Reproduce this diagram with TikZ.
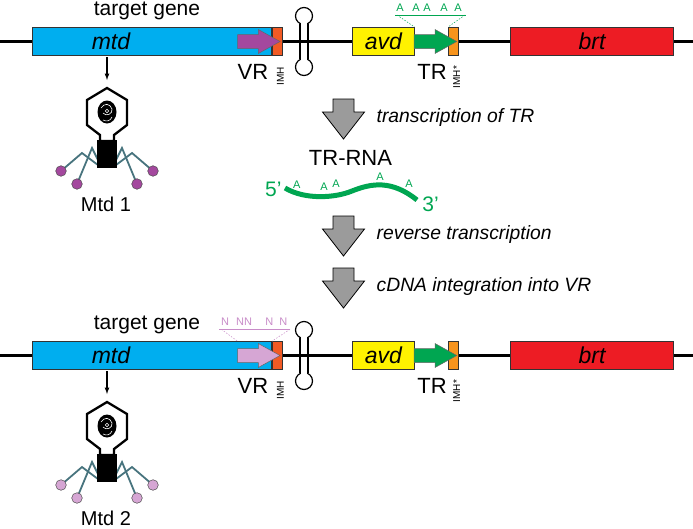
\documentclass[tikz,border=0pt]{standalone}
\usepackage{fontspec}
\setmainfont{Liberation Sans}
\usetikzlibrary{positioning, arrows}

\definecolor{mtdblue}{RGB}{0,174,239}
\definecolor{imhred}{RGB}{241,90,36}
\definecolor{imhorange}{RGB}{247,148,29}
\definecolor{avdyellow}{RGB}{255,242,0}
\definecolor{trgreen}{RGB}{0,166,81}
\definecolor{brtred}{RGB}{237,28,36}
\definecolor{vrdark}{RGB}{164,72,158}
\definecolor{vrlight}{RGB}{214,166,212}
\definecolor{npink}{RGB}{200,140,200}
\definecolor{legteal}{RGB}{72,116,126}
\definecolor{arrowgray}{RGB}{155,155,155}

\tikzset{
  gene/.style={draw=black!80, line width=0.8pt, minimum height=27.7pt, inner sep=0pt},
  imh/.style={draw=black!80, line width=0.6pt, minimum width=10pt, minimum height=27.7pt, inner sep=0pt},
  genename/.style={font=\fontsize{23}{23}\selectfont\itshape},
  lbl/.style={font=\fontsize{21}{21}\selectfont, inner sep=0pt},
  imhtext/.style={font=\fontsize{10}{10}\selectfont, inner sep=0pt, rotate=90},
  basetext/.style={font=\fontsize{11}{11}\selectfont, inner sep=0pt},
  fibre/.style={draw=legteal, line width=1.8pt},
}

\begin{document}
\begin{tikzpicture}[x=1pt, y=-1pt]
    \useasboundingbox (0,0) rectangle (693,528);

    % the two loci, before and after
    \foreach \r/\dy/\vr in {1/0/vrdark, 2/314/vrlight} {
        % terminator hairpin
        \filldraw[fill=white, line width=1.2pt] (304,16+\dy) circle (8.5pt);
        \filldraw[fill=white, line width=1.2pt] (304,67+\dy) circle (8.5pt);
        \fill[white] (300.6,22+\dy) rectangle (307.4,61+\dy);
        \draw[line width=1.2pt] (300,23.6+\dy) -- (300,59.4+\dy) (308,23.6+\dy) -- (308,59.4+\dy);

        \coordinate (L\r) at (0,41.5+\dy);
        \coordinate (R\r) at (693,41.5+\dy);
        \draw[line width=3.3pt] (L\r) -- (R\r);

        \node (mtdbox\r) [gene, fill=mtdblue, minimum width=239.4pt] at (152,41.2+\dy) {};
        \node (imhvr\r) [imh, fill=imhred, right=0pt of mtdbox\r] {};
        \node (mtd\r) [genename] at (111,41.2+\dy) {mtd};
        \coordinate (vrtop\r) at (237.7,27.3+\dy);
        \filldraw[fill=\vr, draw=black!60, line width=0.5pt] (237.7,34.5+\dy) -- (258.3,34.5+\dy) -- (258.3,29.5+\dy)
            -- (280,41.5+\dy) -- (258.3,53.5+\dy) -- (258.3,48.5+\dy) -- (237.7,48.5+\dy) -- cycle;

        \node (avd\r) [gene, genename, fill=avdyellow, minimum width=61.3pt] at (383.35,41.2+\dy) {avd};
        \node (imhtr\r) [imh, fill=imhorange] at (453.3,41.2+\dy) {};
        \filldraw[fill=trgreen, draw=black!60, line width=0.5pt] (414,34.5+\dy) -- (435,34.5+\dy) -- (435,29.5+\dy)
            -- (456.7,41.5+\dy) -- (435,53.5+\dy) -- (435,48.5+\dy) -- (414,48.5+\dy) -- cycle;
        \node (brt\r) [gene, genename, fill=brtred, minimum width=162.6pt] at (592,41.2+\dy) {brt};

        \node (tg\r) [lbl] at (147,10.5+\dy) {target gene};
        \node (vr\r) [lbl, font=\fontsize{22}{22}\selectfont] at (253,72+\dy) {VR};
        \node (imhvrtext\r) [imhtext] at (280.5,76+\dy) {IMH};
        \node (tr\r) [lbl, font=\fontsize{22}{22}\selectfont] at (432,72+\dy) {TR};
        \node (imhtrtext\r) [imhtext] at (456.7,77+\dy) {IMH*};

        % phage carrying Mtd
        \coordinate (top\r) at (107,57+\dy);
        \coordinate (head\r) at (107,80+\dy);
        \draw[-latex, line width=1.2pt] (top\r) -- (head\r);
        \draw[fibre] (61,171+\dy) -- (82,153+\dy) -- (98,165+\dy);
        \draw[fibre] (77,184+\dy) -- (92,148+\dy) -- (98,160+\dy);
        \draw[fibre] (153,171+\dy) -- (132,153+\dy) -- (116,165+\dy);
        \draw[fibre] (137,184+\dy) -- (122,148+\dy) -- (116,160+\dy);
        \foreach \fx/\fy in {61/171, 77/184, 153/171, 137/184}
            \filldraw[fill=\vr, draw=black!70, line width=0.5pt] (\fx,\fy+\dy) circle (5.3pt);
        \draw[line width=2.3pt, fill=white, line join=miter] (107,88+\dy) -- (87,100+\dy) -- (87,125+\dy) -- (100,135+\dy)
            -- (100,141+\dy) -- (114,141+\dy) -- (114,135+\dy) -- (127,125+\dy) -- (127,100+\dy) -- cycle;
        \fill (97,140+\dy) rectangle (117,168+\dy);
        \fill (107,112+\dy) ellipse (9.5pt and 11.5pt);
        \draw[white, line width=0.6pt] (101,108+\dy) .. controls (104,103+\dy) and (110,103+\dy) .. (112,109+\dy)
            .. controls (113,114+\dy) and (106,117+\dy) .. (103,113+\dy);
        \draw[white, line width=0.6pt] (103,120+\dy) .. controls (107,122+\dy) and (110,121+\dy) .. (112,117+\dy);
        \draw[white, line width=0.5pt] (107,111+\dy) circle (1.8pt);
        \node (mtdlbl\r) [lbl, font=\fontsize{20}{20}\selectfont] at (106,204+\dy) {Mtd \r};
    }

    % adenines in TR
    \coordinate (aL) at (395,15);
    \coordinate (aR) at (466,15);
    \draw[trgreen, line width=0.8pt] (aL) -- (aR);
    \foreach \x in {400, 416, 427, 444, 458}
        \node (a\x) [basetext, text=trgreen] at (\x,8) {A};
    \draw[trgreen, line width=0.5pt, dash pattern=on 1.5pt off 1.5pt] ([xshift=2pt]aL) -- (avd1.north east);
    \draw[trgreen, line width=0.5pt, dash pattern=on 1.5pt off 1.5pt] ([xshift=-1pt]aR) -- (imhtr1.north west);

    % mutated positions in VR
    \coordinate (nL) at (219.3,329.3);
    \coordinate (nR) at (290,329.3);
    \draw[npink, line width=0.8pt] (nL) -- (nR);
    \foreach \x in {225, 240, 248, 269.3, 283.3}
        \node (n\x) [basetext, text=npink] at (\x,322) {N};
    \draw[npink, line width=0.5pt, dash pattern=on 1.5pt off 1.5pt] ([xshift=2pt]nL) -- (vrtop2);
    \draw[npink, line width=0.5pt, dash pattern=on 1.5pt off 1.5pt] (nR) -- (imhvr2.north west);

    % TR-RNA
    \node (trrna) [lbl, font=\fontsize{22}{22}\selectfont] at (350.5,158) {TR-RNA};
    \coordinate (r5) at (285,188);
    \coordinate (r3) at (417,200);
    \draw[trgreen, line width=5pt] (r5) .. controls (305,200) and (335,198) .. (352,191)
        .. controls (372,183) and (392,180) .. (r3);
    \node (five) [lbl, text=trgreen] at (273.3,189) {5’};
    \node (three) [lbl, text=trgreen] at (430.5,204) {3’};
    \foreach \x/\y in {296.7/185, 324/186.7, 336/183.3, 380/176.7, 409/183.3}
        \node (ra\x) [basetext, text=trgreen] at (\x,\y) {A};

    % steps
    \foreach \n/\y/\txt in {1/99/transcription of TR, 2/216/reverse transcription, 3/268/cDNA integration into VR} {
        \filldraw[fill=arrowgray, draw=black, line width=0.8pt] (333,\y) -- ++(21,0) -- ++(0,13) -- ++(10.5,0)
            -- (343.5,\y+40) -- (322.5,\y+13) -- (333,\y+13) -- cycle;
        \coordinate (arr\n) at (364.5,\y+19);
        \node (steptext\n) [right=12pt of arr\n, inner sep=0pt, font=\fontsize{19.3}{19.3}\selectfont\itshape] {\txt};
    }
\end{tikzpicture}
\end{document}
